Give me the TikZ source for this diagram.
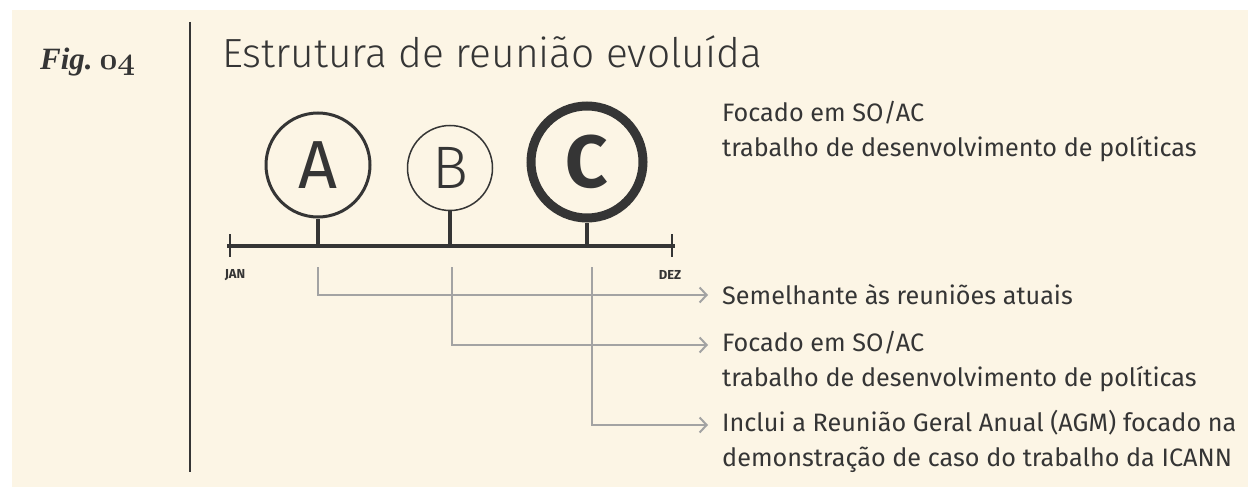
\documentclass[tikz,border=0pt]{standalone}
\usepackage{fontspec}
\setmainfont{Fira Sans}
\newfontfamily\lightfont{Fira Sans Light}
\newfontfamily\figserif{Liberation Serif}
\DeclareFontFamily{OML}{cmmxb}{\skewchar\font'177}
\DeclareFontShape{OML}{cmmxb}{b}{it}{<->cmmib10}{}
\usetikzlibrary{arrows.meta}
\definecolor{bg}{HTML}{FCF5E5}
\definecolor{ink}{HTML}{353535}
\definecolor{conn}{HTML}{A3A3A3}
\tikzset{
  ring/.style={circle, draw=ink, text=ink, inner sep=0pt},
  stem/.style={draw=ink, line width=4.5pt},
  conn/.style={draw=conn, line width=2pt, -{Straight Barb[length=7pt,width=15pt,line width=2pt]}},
  desc/.style={anchor=west, text=ink, align=left, inner sep=0pt, font=\fontsize{25.2}{35}\selectfont},
  month/.style={text=ink, inner sep=0pt, font=\bfseries\fontsize{13}{14}\selectfont}
}
\begin{document}
\begin{tikzpicture}[x=1pt,y=-1pt]
\useasboundingbox (0,0) rectangle (1248,487);
\fill[white] (0,0) rectangle (1248,487);
\fill[bg] (12,10) rectangle (1248,487);
% divider
\draw[ink, line width=2.5pt] (190,22) -- (190,472);
% header
\node[anchor=base west, text=ink, inner sep=0pt] (fig) at (40,70)
  {\fontsize{31}{36}\selectfont\figserif\bfseries\itshape Fig.\hspace{0.22em}{\usefont{OML}{cmmxb}{b}{it}\fontsize{31}{36}\selectfont 04}};
\node[anchor=base west, text=ink, inner sep=0pt] (title) at (222,68)
  {\lightfont\fontsize{40.7}{48}\selectfont Estrutura de reunião evoluída};
% timeline
\coordinate (L) at (227,246);
\coordinate (R) at (675,246);
\draw[stem] (L) -- (R);
\coordinate (Lt) at (230,234); \coordinate (Lb) at (230,257);
\coordinate (Rt) at (672,234); \coordinate (Rb) at (672,257);
\draw[ink, line width=2pt] (Lt) -- (Lb);
\draw[ink, line width=2pt] (Rt) -- (Rb);
% circles
\node[ring, line width=3pt, minimum size=104pt, font=\fontsize{68}{68}\selectfont] (A) at (318,165) {A};
\node[ring, line width=1.5pt, minimum size=85pt, font=\lightfont\fontsize{60}{60}\selectfont] (B) at (450,168) {B};
\node[ring, line width=9pt, minimum size=112pt, font=\bfseries\fontsize{74}{74}\selectfont] (C) at (587,162) {C};
\coordinate (Ab) at (318,246); \coordinate (Bb) at (450,246); \coordinate (Cb) at (587,246);
\draw[stem] (A.south) -- (Ab);
\draw[stem] (B.south) -- (Bb);
\draw[stem] (C.south) -- (Cb);
% month labels
\node[month] (jan) at (235,275) {JAN};
\node[month] (dez) at (670,275) {DEZ};
% descriptions
\node[desc] (top) at (722,132) {Focado em SO/AC\\trabalho de desenvolvimento de políticas};
\node[desc] (d1) at (722,295) {Semelhante às reuniões atuais};
\node[desc] (d2) at (722,362) {Focado em SO/AC\\trabalho de desenvolvimento de políticas};
\node[desc] (d3) at (722,441) {Inclui a Reunião Geral Anual (AGM) focado na\\demonstração de caso do trabalho da ICANN};
% connectors
\coordinate (a0) at (318,267); \coordinate (a1) at (318,295); \coordinate (a2) at (708,295);
\coordinate (b0) at (452,267); \coordinate (b1) at (452,345); \coordinate (b2) at (708,345);
\coordinate (c0) at (592,267); \coordinate (c1) at (592,425); \coordinate (c2) at (708,425);
\draw[conn] (a0) -- (a1) -- (a2);
\draw[conn] (b0) -- (b1) -- (b2);
\draw[conn] (c0) -- (c1) -- (c2);
\end{tikzpicture}
\end{document}
